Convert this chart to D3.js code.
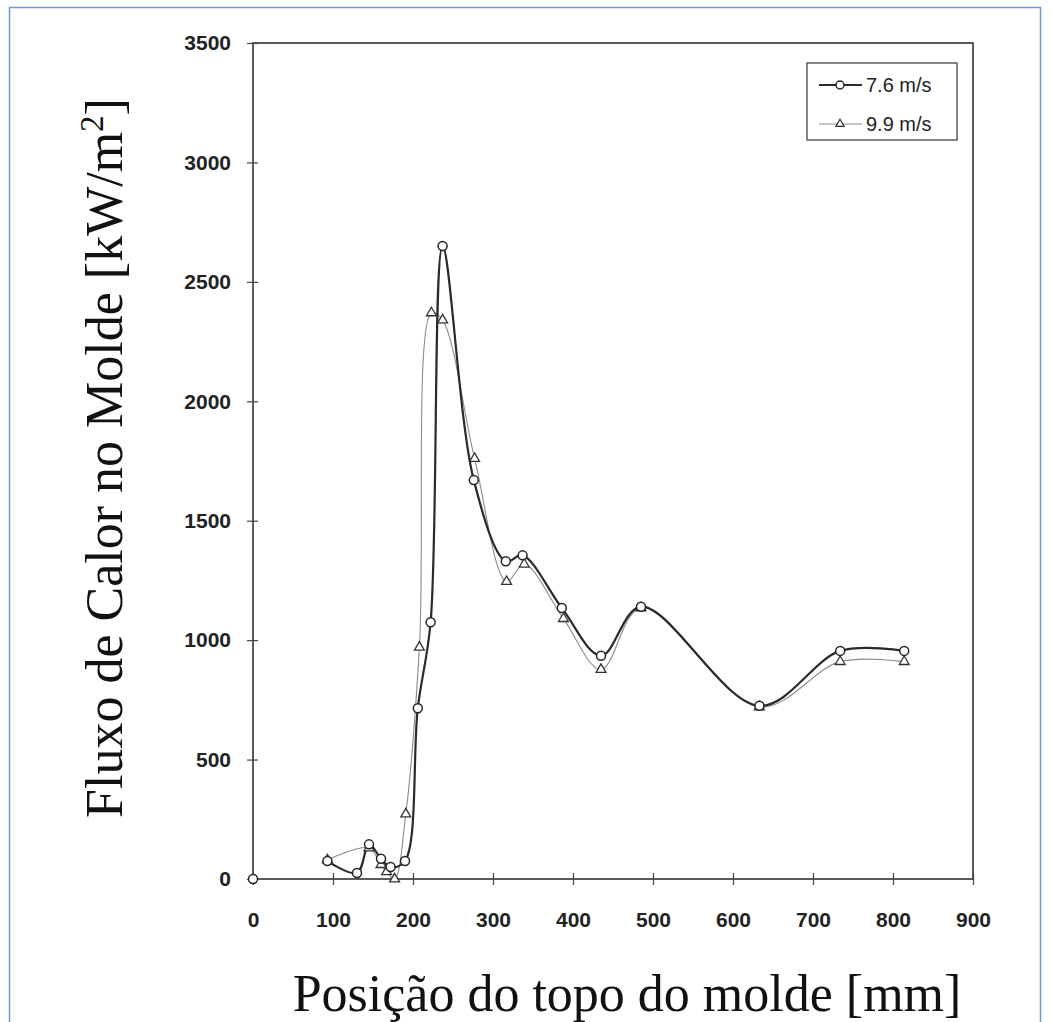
<!DOCTYPE html>
<html>
<head>
<meta charset="utf-8">
<script src="https://cdn.jsdelivr.net/npm/d3@7"></script>
<style>
  html, body { margin: 0; padding: 0; background: #fff; }
  svg { display: block; }
</style>
</head>
<body>
<svg id="chart" width="1051" height="1022"></svg>
<script>
// Mold heat flux vs. distance from the mold top, for two casting speeds
const seriesNames = ["7.6 m/s", "9.9 m/s"];

const posA = [0, 93, 130, 145, 160, 172, 190, 206, 222, 237, 276, 316, 337, 386, 435, 485, 633, 734, 814];
const fluxA = [0, 75, 25, 145, 85, 50, 75, 715, 1075, 2650, 1670, 1330, 1355, 1135, 935, 1140, 725, 955, 955];

const posB = [93, 145, 160, 167, 177, 191, 208, 223, 237, 277, 317, 339, 388, 435, 485, 633, 734, 814];
const fluxB = [80, 130, 60, 30, 0, 272, 970, 2370, 2340, 1760, 1245, 1318, 1090, 877, 1135, 720, 910, 910];

const xTicks = [0, 100, 200, 300, 400, 500, 600, 700, 800, 900];
const yTicks = [0, 500, 1000, 1500, 2000, 2500, 3000, 3500];

const svg = d3.select("#chart");

// page frame
svg.append("rect")
  .attr("x", 9.5).attr("y", 7.5)
  .attr("width", 1031).attr("height", 1030)
  .attr("fill", "none").attr("stroke", "#6b9bd6").attr("stroke-width", 1.5);

const plot = { left: 253, right: 973, top: 43, bottom: 879 };

const x = d3.scaleLinear().domain([0, 900]).range([plot.left, plot.right]);
const y = d3.scaleLinear().domain([0, 3500]).range([plot.bottom, plot.top]);

// plot box
svg.append("rect")
  .attr("x", plot.left).attr("y", plot.top)
  .attr("width", plot.right - plot.left).attr("height", plot.bottom - plot.top)
  .attr("fill", "none").attr("stroke", "#333").attr("stroke-width", 1.6);

const tickFont = "'Liberation Sans', Arial, sans-serif";

// y axis
const yAxis = svg.append("g")
  .attr("transform", `translate(${plot.left},0)`)
  .call(d3.axisLeft(y).tickValues(yTicks).tickSize(6).tickPadding(16).tickFormat(d3.format("d")));
yAxis.select(".domain").remove();
yAxis.selectAll(".tick line").attr("x2", 5).attr("x1", -6).attr("stroke", "#444").attr("stroke-width", 1.2);
yAxis.selectAll(".tick text")
  .attr("font-family", tickFont).attr("font-size", 21).attr("font-weight", "bold").attr("fill", "#222");

// x axis
const xAxis = svg.append("g")
  .attr("transform", `translate(0,${plot.bottom})`)
  .call(d3.axisBottom(x).tickValues(xTicks).tickSize(6).tickPadding(27).tickFormat(d3.format("d")));
xAxis.select(".domain").remove();
xAxis.selectAll(".tick line").attr("y1", -6).attr("y2", 6).attr("stroke", "#444").attr("stroke-width", 1.2);
xAxis.selectAll(".tick text")
  .attr("font-family", tickFont).attr("font-size", 21).attr("font-weight", "bold").attr("fill", "#222");

// axis titles
const titleFont = "'Liberation Serif', 'Times New Roman', serif";
svg.append("text")
  .attr("x", 627).attr("y", 1011)
  .attr("text-anchor", "middle")
  .attr("font-family", titleFont).attr("font-size", 52).attr("fill", "#111")
  .text("Posição do topo do molde [mm]");

const yTitle = svg.append("text")
  .attr("transform", "translate(122,458) rotate(-90)")
  .attr("text-anchor", "middle")
  .attr("font-family", titleFont).attr("font-size", 52).attr("fill", "#111");
yTitle.append("tspan").text("Fluxo de Calor no Molde [kW/m");
yTitle.append("tspan").attr("dy", -19).attr("font-size", 33).text("2");
yTitle.append("tspan").attr("dy", 19).text("]");

// curves (the origin point stands alone; the curves start at the first measured position)
const dataA = posA.map((p, i) => [p, fluxA[i]]);
const dataB = posB.map((p, i) => [p, fluxB[i]]);

const line = d3.line()
  .x(d => x(d[0])).y(d => y(d[1]))
  .curve(d3.curveCatmullRom.alpha(0.5));

svg.append("path").datum(dataB)
  .attr("d", line).attr("fill", "none")
  .attr("stroke", "#8a8a8a").attr("stroke-width", 1.1);

svg.append("path").datum(dataA.slice(1))
  .attr("d", line).attr("fill", "none")
  .attr("stroke", "#2a2a2a").attr("stroke-width", 2.2);

// markers
const tri = d3.symbol().type(d3.symbolTriangle).size(42);

svg.append("g").selectAll("path").data(dataB).join("path")
  .attr("d", tri)
  .attr("transform", d => `translate(${x(d[0])},${y(d[1])})`)
  .attr("fill", "#fff").attr("stroke", "#333").attr("stroke-width", 1.3);

svg.append("g").selectAll("circle").data(dataA).join("circle")
  .attr("cx", d => x(d[0])).attr("cy", d => y(d[1])).attr("r", 4.5)
  .attr("fill", "#fff").attr("stroke", "#222").attr("stroke-width", 1.5);

// legend
const lg = svg.append("g").attr("transform", "translate(807,63)");
lg.append("rect").attr("width", 150).attr("height", 77)
  .attr("fill", "#fff").attr("stroke", "#444").attr("stroke-width", 1.3);

const legendRows = [
  { name: seriesNames[0], y: 22, stroke: "#2a2a2a", sw: 2, mark: "circle" },
  { name: seriesNames[1], y: 61, stroke: "#8a8a8a", sw: 1.1, mark: "tri" }
];
legendRows.forEach(r => {
  lg.append("line").attr("x1", 12).attr("x2", 55).attr("y1", r.y).attr("y2", r.y)
    .attr("stroke", r.stroke).attr("stroke-width", r.sw);
  if (r.mark === "circle") {
    lg.append("circle").attr("cx", 33).attr("cy", r.y).attr("r", 4)
      .attr("fill", "#fff").attr("stroke", "#222").attr("stroke-width", 1.4);
  } else {
    lg.append("path").attr("d", d3.symbol().type(d3.symbolTriangle).size(30))
      .attr("transform", `translate(33,${r.y})`)
      .attr("fill", "#fff").attr("stroke", "#333").attr("stroke-width", 1.2);
  }
  lg.append("text").attr("x", 59).attr("y", r.y + 7)
    .attr("font-family", tickFont).attr("font-size", 20).attr("fill", "#222")
    .text(r.name);
});
</script>
</body>
</html>
